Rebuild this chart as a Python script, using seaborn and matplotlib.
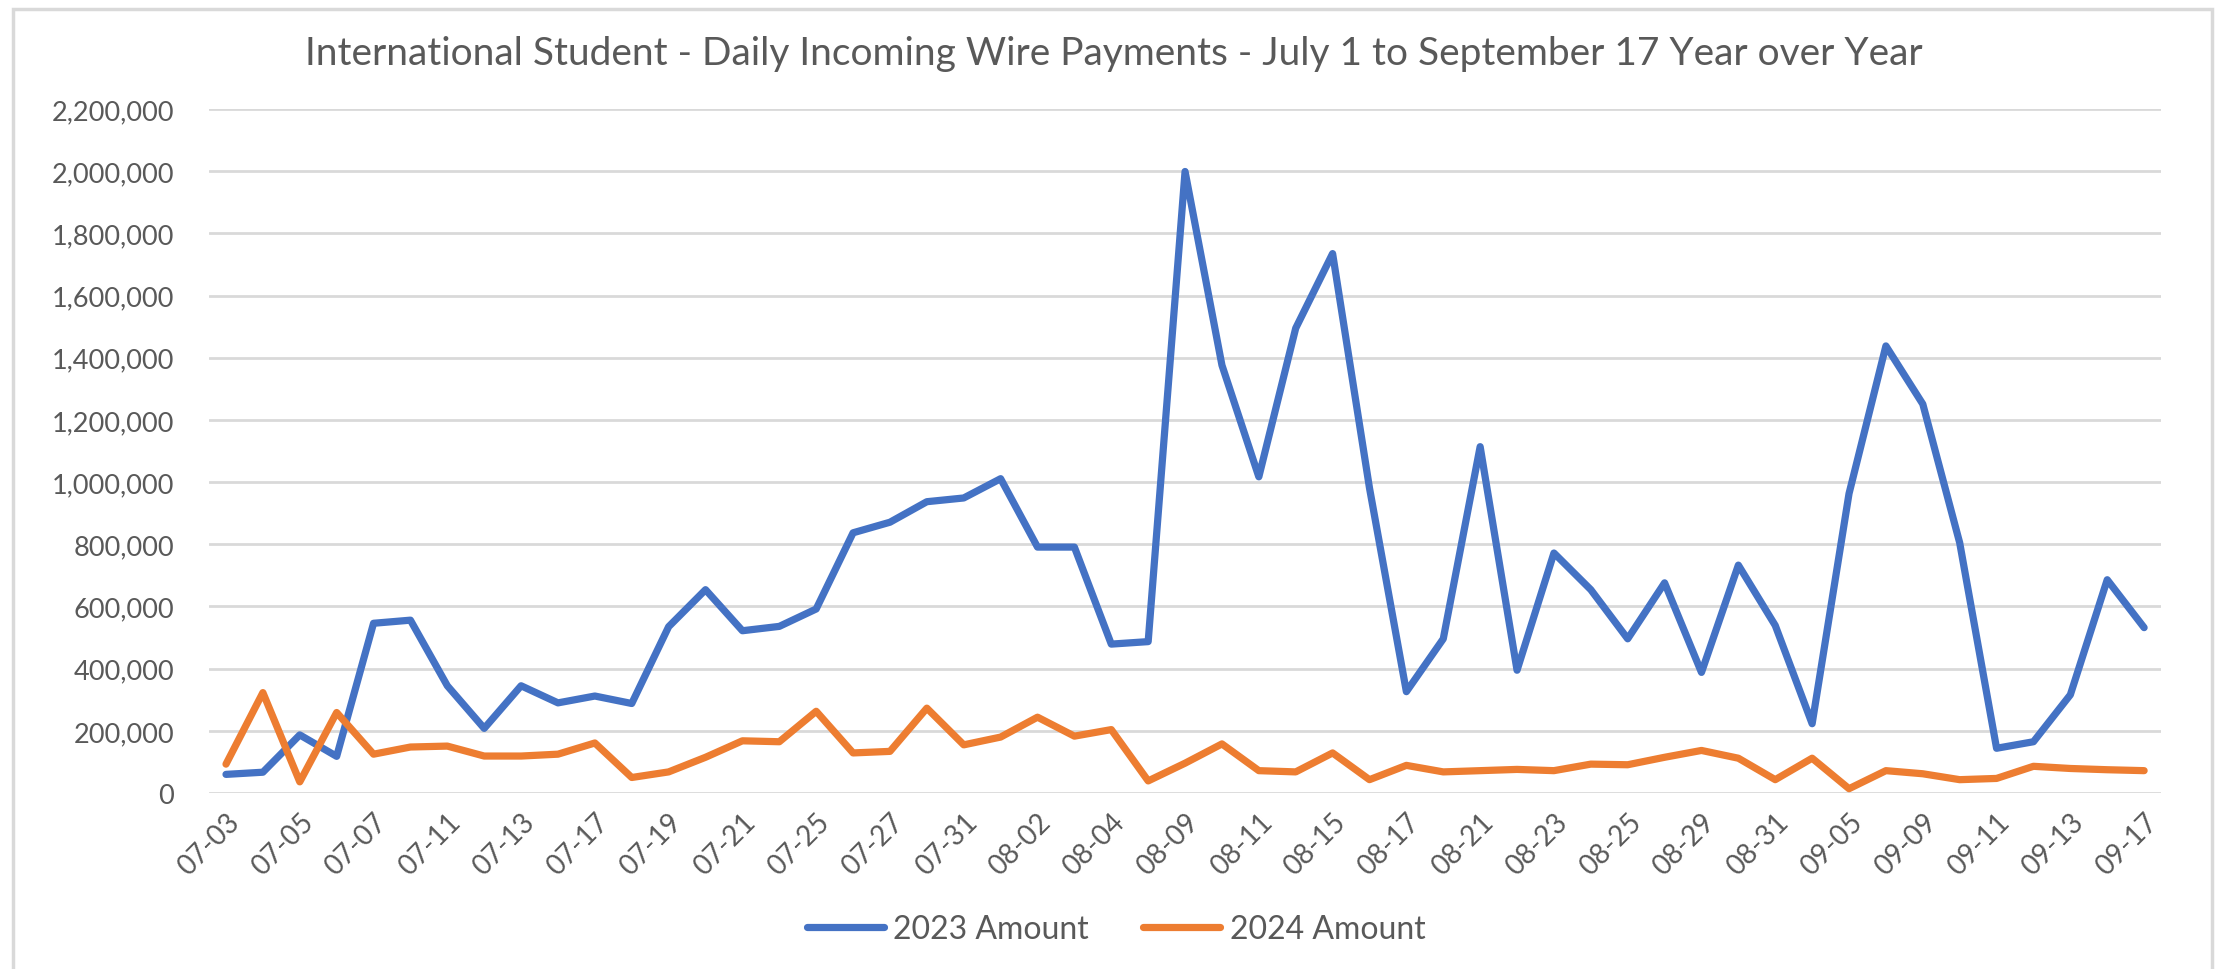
import matplotlib
matplotlib.use("Agg")
import matplotlib.pyplot as plt
import matplotlib.ticker as mticker
from matplotlib.patches import Rectangle
import pandas as pd
import seaborn as sns

# data (one value per business day)
dates = ['07-03', '07-04', '07-05', '07-06', '07-07', '07-10', '07-11', '07-12', '07-13', '07-14',
         '07-17', '07-18', '07-19', '07-20', '07-21', '07-24', '07-25', '07-26', '07-27', '07-28',
         '07-31', '08-01', '08-02', '08-03', '08-04', '08-08', '08-09', '08-10', '08-11', '08-14',
         '08-15', '08-16', '08-17', '08-18', '08-21', '08-22', '08-23', '08-24', '08-25', '08-28',
         '08-29', '08-30', '08-31', '09-01', '09-05', '09-07', '09-09', '09-10', '09-11', '09-12',
         '09-13', '09-14', '09-17']

amount_2023 = [60000, 67000, 187000, 118000, 546000, 556000, 345000, 208000, 345000, 290000,
               312000, 288000, 535000, 654000, 522000, 536000, 592000, 837000, 871000, 937000,
               949000, 1011000, 791000, 791000, 479000, 487000, 1999000, 1376000, 1017000, 1495000,
               1735000, 981000, 326000, 496000, 1114000, 395000, 772000, 654000, 496000, 676000,
               388000, 733000, 539000, 223000, 963000, 1438000, 1251000, 805000, 144000, 165000,
               316000, 686000, 532000]

amount_2024 = [93000, 323000, 36000, 259000, 125000, 148000, 151000, 119000, 119000, 125000,
               161000, 50000, 68000, 115000, 168000, 165000, 263000, 129000, 134000, 273000,
               155000, 180000, 244000, 183000, 204000, 39000, 96000, 158000, 72000, 68000,
               129000, 43000, 89000, 68000, 72000, 76000, 72000, 93000, 91000, 115000,
               137000, 112000, 43000, 112000, 14000, 72000, 62000, 43000, 47000, 86000,
               79000, 75000, 72000]

series_names = ['2023 Amount', '2024 Amount']
colors = ['#4472C4', '#ED7D31']
title = 'International Student - Daily Incoming Wire Payments - July 1 to September 17 Year over Year'

df = pd.DataFrame({
    'pos': list(range(len(dates))) * 2,
    'amount': amount_2023 + amount_2024,
    'series': [series_names[0]] * len(dates) + [series_names[1]] * len(dates),
})

sns.set_style('white')
plt.rcParams['font.family'] = ['Lato', 'DejaVu Sans']
text_grey = '#595959'
grid_grey = '#D9D9D9'

fig = plt.figure(figsize=(22.19, 9.70), dpi=100)
ax = fig.add_axes([0.0942, 0.1814, 0.8797, 0.7052])

sns.lineplot(data=df, x='pos', y='amount', hue='series', palette=colors,
             linewidth=5.2, ax=ax, legend=True)

ax.set_xlim(-0.46, len(dates) - 0.54)
ax.set_ylim(0, 2200000)
ax.set_yticks(range(0, 2200001, 200000))
ax.yaxis.set_major_formatter(mticker.FuncFormatter(lambda v, p: f'{v:,.0f}'))
ax.set_xticks(range(0, len(dates), 2))
ax.set_xticklabels(dates[::2], rotation=45, ha='right', rotation_mode='anchor')
ax.tick_params(axis='both', length=0, colors=text_grey)
ax.tick_params(axis='y', pad=25, labelsize=19.5)
ax.tick_params(axis='x', pad=11, labelsize=20)
ax.grid(axis='y', color=grid_grey, linewidth=2)
ax.set_axisbelow(True)
for s in ax.spines.values():
    s.set_visible(False)
ax.set_xlabel('')
ax.set_ylabel('')

fig.text(0.502, 0.944, title, ha='center', va='center', fontsize=28, color=text_grey)

handles, labels = ax.get_legend_handles_labels()
ax.legend_.remove()
leg = fig.legend(handles, labels, loc='center', bbox_to_anchor=(0.503, 0.041), ncol=2,
                 frameon=False, fontsize=23, handlelength=2.4, columnspacing=1.7,
                 handletextpad=0.3)
for t in leg.get_texts():
    t.set_color(text_grey)

# chart area border
fig.patches.append(Rectangle((13 / 2219, -0.02), 2199 / 2219, 1 - 10 / 970 + 0.02,
                             transform=fig.transFigure, fill=False,
                             edgecolor=grid_grey, linewidth=2.5))

fig.savefig('out.png', dpi=100)
